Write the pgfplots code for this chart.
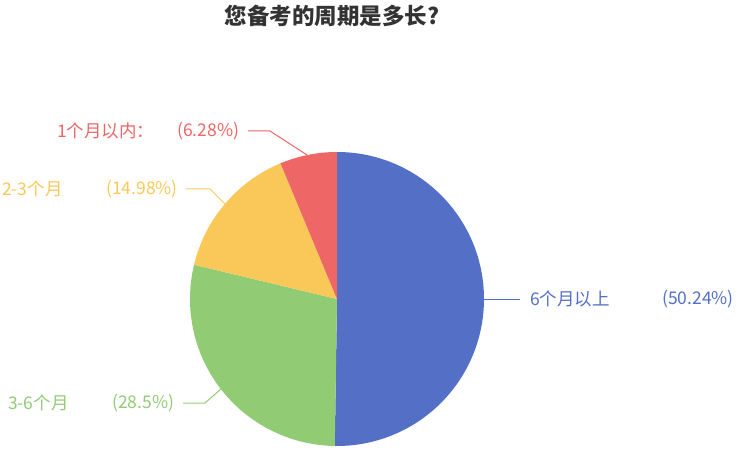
\documentclass[border=0pt]{standalone}
\usepackage{pgfplots}
\pgfplotsset{compat=1.18}
\usepackage{fontspec}
\setmainfont{Noto Sans CJK SC}
\definecolor{cBlue}{HTML}{5470C6}
\definecolor{cGreen}{HTML}{91CC75}
\definecolor{cYellow}{HTML}{FAC858}
\definecolor{cRed}{HTML}{EE6666}
\definecolor{cTitle}{HTML}{333333}
\tikzset{lbl/.style={anchor=west, inner sep=0pt, font=\fontsize{17.5bp}{20bp}\selectfont}}
\begin{document}
\begin{tikzpicture}
% shares in percent, clockwise from 12 o'clock
\pgfmathsetmacro\aA{90}
\pgfmathsetmacro\aB{\aA-3.6*50.24}
\pgfmathsetmacro\aC{\aB-3.6*28.5}
\pgfmathsetmacro\aD{\aC-3.6*14.98}
\pgfmathsetmacro\aE{\aD-3.6*6.28}
\def\R{147bp}
\begin{axis}[
  width=740bp, height=452bp, scale only axis,
  xmin=0, xmax=740, ymin=0, ymax=452,
  hide axis, clip=false,
]
\addplot[draw=none] coordinates {(0,0) (740,452)};
\fill[cBlue] (axis cs:337,153) -- ([shift={(\aA:\R)}]axis cs:337,153) arc[start angle=\aA, end angle=\aB, radius=\R] -- cycle;
\fill[cGreen] (axis cs:337,153) -- ([shift={(\aB:\R)}]axis cs:337,153) arc[start angle=\aB, end angle=\aC, radius=\R] -- cycle;
\fill[cYellow] (axis cs:337,153) -- ([shift={(\aC:\R)}]axis cs:337,153) arc[start angle=\aC, end angle=\aD, radius=\R] -- cycle;
\fill[cRed] (axis cs:337,153) -- ([shift={(\aD:\R)}]axis cs:337,153) arc[start angle=\aD, end angle=\aE, radius=\R] -- cycle;
% leader lines
\draw[cRed, line width=1bp] (axis cs:307,297) -- (axis cs:270,321) -- (axis cs:248,321);
\draw[cYellow, line width=1bp] (axis cs:225,248) -- (axis cs:210,263) -- (axis cs:186,263);
\draw[cGreen, line width=1bp] (axis cs:221,63) -- (axis cs:205,49) -- (axis cs:183,49);
\draw[cBlue, line width=1bp] (axis cs:484,153) -- (axis cs:520,153);
% labels
\node[lbl, text=cRed] at (axis cs:57,321) {1个月以内：};
\node[lbl, text=cRed] at (axis cs:177,321) {(6.28\%)};
\node[lbl, text=cYellow] at (axis cs:2,263) {2-3个月};
\node[lbl, text=cYellow] at (axis cs:106,263) {(14.98\%)};
\node[lbl, text=cGreen] at (axis cs:8,49) {3-6个月};
\node[lbl, text=cGreen] at (axis cs:112,49) {(28.5\%)};
\node[lbl, text=cBlue] at (axis cs:530,153) {6个月以上};
\node[lbl, text=cBlue] at (axis cs:662,153) {(50.24\%)};
% title
\node[text=cTitle, font=\fontsize{22.5bp}{26bp}\selectfont\bfseries] at (axis cs:332,436) {您备考的周期是多长?};
\end{axis}
\end{tikzpicture}
\end{document}
